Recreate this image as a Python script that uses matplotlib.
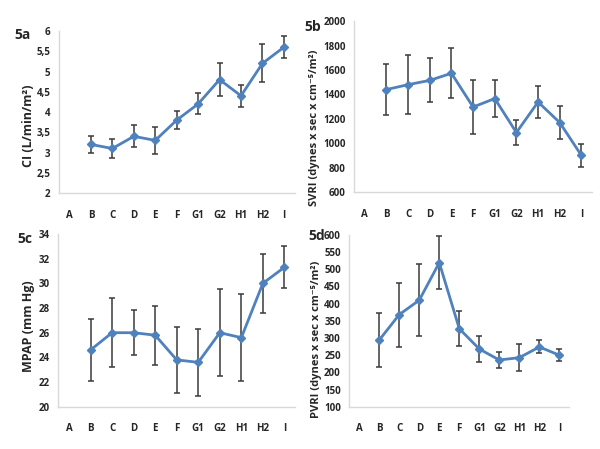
import matplotlib
matplotlib.use('Agg')
import matplotlib.pyplot as plt

plt.rcParams['font.family'] = ['Open Sans', 'DejaVu Sans']

groups = ['A', 'B', 'C', 'D', 'E', 'F', 'G1', 'G2', 'H1', 'H2', 'I']

# values start at B (A has no data)
ci_mean = [3.2, 3.1, 3.4, 3.3, 3.8, 4.2, 4.8, 4.4, 5.2, 5.6]
ci_err = [0.22, 0.23, 0.27, 0.33, 0.22, 0.26, 0.41, 0.27, 0.47, 0.27]

svri_mean = [1440, 1480, 1515, 1573, 1297, 1366, 1088, 1338, 1170, 901]
svri_err = [212, 243, 180, 205, 220, 150, 102, 130, 133, 96]

mpap_mean = [24.6, 26.0, 26.0, 25.8, 23.8, 23.6, 26.0, 25.6, 30.0, 31.3]
mpap_err = [2.5, 2.8, 1.8, 2.4, 2.7, 2.7, 3.5, 3.5, 2.4, 1.7]

pvri_mean = [294, 368, 410, 519, 327, 268, 236, 243, 274, 250]
pvri_err = [78, 93, 105, 77, 51, 37, 22, 40, 19, 18]

BLUE = '#4f81bd'
TXT = '#262626'

panels = [
    # rect, mean, err, ylim, yticks, ylabel, label size, tag, tag pos, ylabel pos
    ([0.098, 0.570, 0.393, 0.361], ci_mean, ci_err, (2, 6),
     [2, 2.5, 3, 3.5, 4, 4.5, 5, 5.5, 6], 'CI (L/min/m²)', 9, '5a', (0.038, 0.922), (0.047, 0.72)),
    ([0.590, 0.572, 0.397, 0.381], svri_mean, svri_err, (600, 2000),
     list(range(600, 2001, 200)), 'SVRI (dynes x sec x cm⁻⁵/m²)', 8, '5b', (0.522, 0.94), (0.525, 0.715)),
    ([0.097, 0.094, 0.395, 0.385], mpap_mean, mpap_err, (20, 34),
     list(range(20, 35, 2)), 'MPAP (mm Hg)', 9, '5c', (0.042, 0.468), (0.047, 0.274)),
    ([0.582, 0.094, 0.367, 0.383], pvri_mean, pvri_err, (100, 600),
     list(range(100, 601, 50)), 'PVRI (dynes x sec x cm⁻⁵/m²)', 8, '5d', (0.528, 0.474), (0.527, 0.244)),
]

fig = plt.figure(figsize=(6, 4.49), dpi=100)
fig.patch.set_facecolor('white')

for rect, mean, err, ylim, yticks, ylabel, lsize, tag, tagpos, ylpos in panels:
    ax = fig.add_axes(rect)
    x = list(range(1, len(groups)))
    ax.errorbar(x, mean, yerr=err, fmt='none', ecolor='#3a3a3a', elinewidth=1.1,
                capsize=2, capthick=1.1, zorder=2)
    ax.plot(x, mean, color=BLUE, lw=2, marker='D', ms=4, mfc=BLUE, mec=BLUE, zorder=3)
    ax.set_xlim(-0.5, len(groups) - 0.5)
    ax.set_ylim(*ylim)
    ax.set_xticks(range(len(groups)))
    ax.set_xticklabels(groups)
    ax.set_yticks(yticks)
    ax.set_yticklabels([f'{v:g}'.replace('.', ',') for v in yticks])
    for s in ['top', 'right']:
        ax.spines[s].set_visible(False)
    for s in ['left', 'bottom']:
        ax.spines[s].set_color('#d9d9d9')
        ax.spines[s].set_linewidth(1)
    ax.tick_params(length=0, labelsize=7, colors=TXT)
    ax.tick_params(axis='x', pad=12)
    ax.tick_params(axis='y', pad=6)
    for lab in ax.get_xticklabels() + ax.get_yticklabels():
        lab.set_fontweight('bold')
    fig.text(ylpos[0], ylpos[1], ylabel, rotation=90, ha='center', va='center',
             fontsize=lsize, fontweight='bold', color=TXT)
    fig.text(tagpos[0], tagpos[1], tag, ha='center', va='center', fontsize=10,
             fontweight='bold', color=TXT)

fig.savefig('out.png', dpi=100, facecolor='white')
